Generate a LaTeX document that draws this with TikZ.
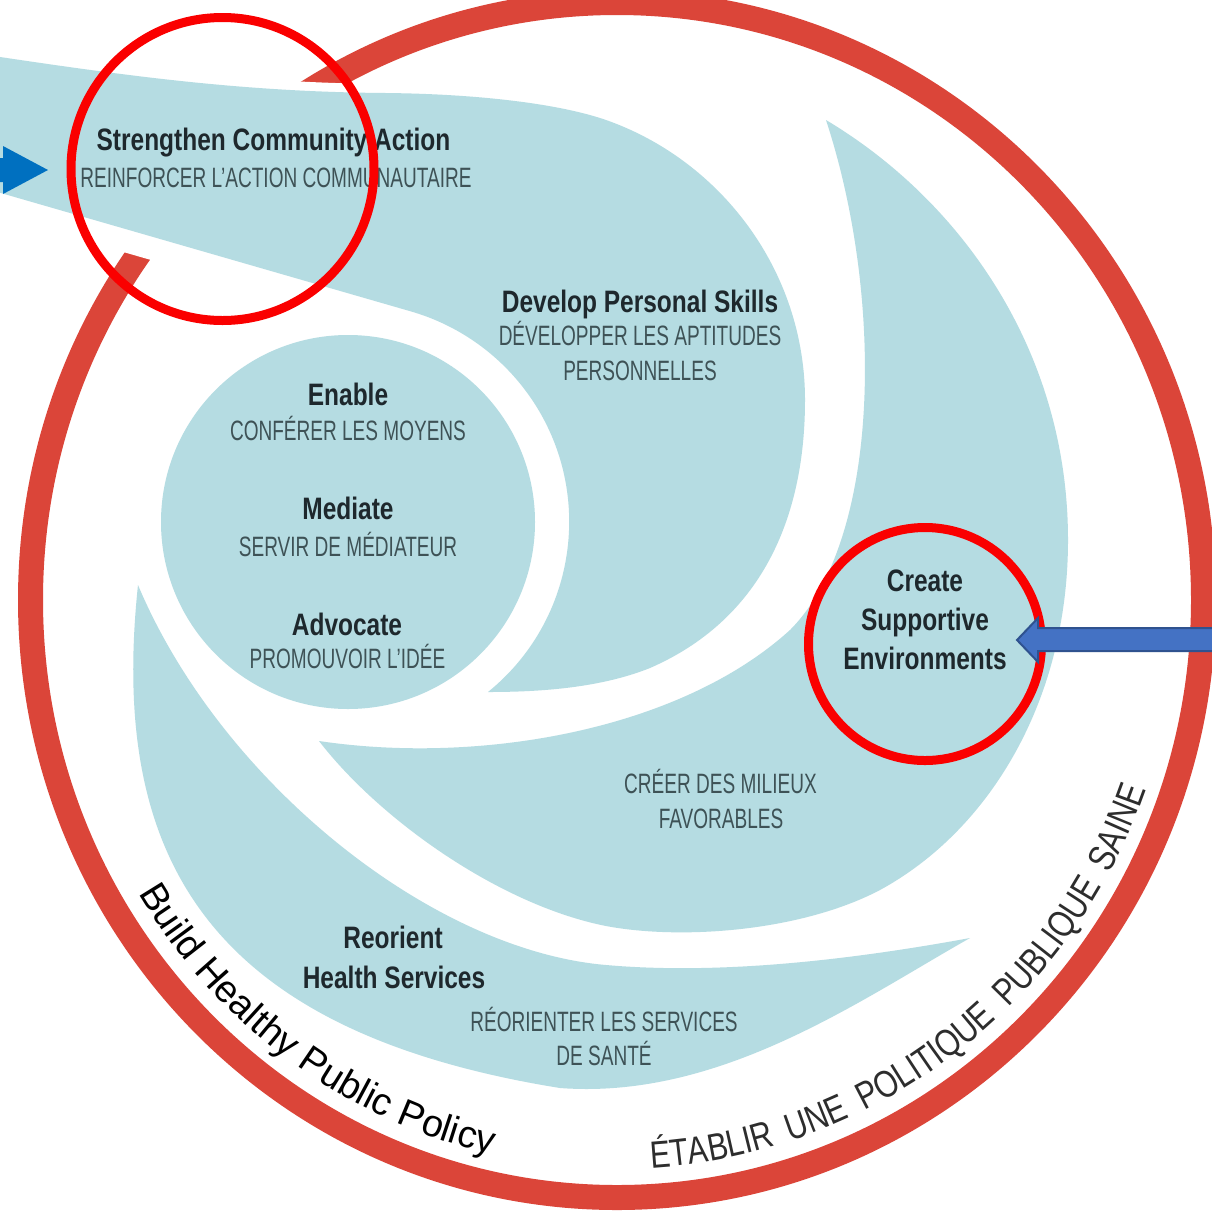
\documentclass[tikz,border=0pt]{standalone}
\usepackage{fontspec}
\setmainfont{Liberation Sans}
\newfontfamily\enfont{Liberation Sans}[FakeStretch=0.79]
\newfontfamily\frfont{Liberation Sans}[FakeStretch=0.68]
\newfontfamily\arcfrfont{Liberation Sans}[FakeStretch=0.8]
\newfontfamily\arcenfont{Liberation Sans}
\usetikzlibrary{decorations.text}
\definecolor{pale}{RGB}{181,220,226}
\definecolor{ringred}{RGB}{219,69,57}
\definecolor{annred}{RGB}{250,0,0}
\definecolor{entext}{RGB}{30,40,45}
\definecolor{frtext}{RGB}{62,82,86}
\definecolor{arrowA}{RGB}{0,112,192}
\definecolor{arrowB}{RGB}{68,114,196}
\definecolor{arrowBd}{RGB}{47,82,143}
\begin{document}
\begin{tikzpicture}[x=1pt, y=-1pt,
  en/.style={anchor=base, inner sep=0pt, text=entext, font=\enfont\bfseries\fontsize{31}{37}\selectfont},
  fr/.style={anchor=base, inner sep=0pt, text=frtext, font=\frfont\fontsize{28}{34}\selectfont},
  annot/.style={circle, draw=annred, line width=9pt, inner sep=0pt},
  region/.style={fill=pale},
  ringstyle/.style={draw=ringred, line width=25pt},
  halo/.style={draw=white, line width=18pt}]
\useasboundingbox (0,0) rectangle (1212,1211);
\clip (0,0) rectangle (1212,1211);
\fill[white] (0,0) rectangle (1212,1211);
\coordinate (ctr) at (617,600);
% outer red ring
\draw[ringstyle] (ctr) ellipse [x radius=586.5, y radius=597.5];
% extra white gap below the band where it crosses the ring
\draw[white, line width=46pt] (410.6,310.5) -- (-20,187);
% band + personal skills region
\path[region, preaction={halo}] (-20,54) .. controls (120,75) and (240,92) .. (386,93)
  .. controls (480,94) and (560,104) .. (606,120)
  .. controls (720,160) and (805,270) .. (805,400)
  .. controls (805,520) and (760,620) .. (650,668)
  .. controls (600,688) and (540,692) .. (488,692)
  arc[start angle=51, end angle=-74, radius=219] -- (-20,187) -- cycle;
% supportive environments region
\path[region] (826,120) .. controls (960,200) and (1068,350) .. (1068,540)
  .. controls (1068,700) and (990,830) .. (880,890)
  .. controls (800,932) and (680,940) .. (606,926)
  .. controls (500,905) and (380,820) .. (319,741)
  .. controls (480,765) and (680,730) .. (790,630)
  .. controls (880,540) and (885,300) .. (826,120) -- cycle;
% reorient health services region
\path[region] (138,585) .. controls (110,850) and (200,1030) .. (560,1088)
  .. controls (720,1100) and (860,1000) .. (970,938)
  .. controls (850,960) and (720,975) .. (606,965)
  .. controls (430,950) and (220,780) .. (138,585) -- cycle;
% inner circle
\path[region] (348,522) circle[radius=187];
% labels
\node[en] (sca) at (273.5,150.6) {Strengthen Community Action};
\node[fr] (scafr) at (276,187) {REINFORCER L’ACTION COMMUNAUTAIRE};
\node[en] (dps) at (640,312) {Develop Personal Skills};
\node[fr] (dpsfr1) at (640,345.5) {DÉVELOPPER LES APTITUDES};
\node[fr] (dpsfr2) at (640,380) {PERSONNELLES};
\node[en] (enable) at (348,405.5) {Enable};
\node[fr] (enablefr) at (348,440) {CONFÉRER LES MOYENS};
\node[en] (mediate) at (348,519) {Mediate};
\node[fr] (mediatefr) at (348,556) {SERVIR DE MÉDIATEUR};
\node[en] (advocate) at (347,635) {Advocate};
\node[fr] (advocatefr) at (347.5,668) {PROMOUVOIR L’IDÉE};
\node[en] (cse1) at (925,591) {Create};
\node[en] (cse2) at (925,630) {Supportive};
\node[en] (cse3) at (925,669) {Environments};
\node[fr] (csefr1) at (720.5,793) {CRÉER DES MILIEUX};
\node[fr] (csefr2) at (721,828) {FAVORABLES};
\node[en] (rhs1) at (393,948) {Reorient};
\node[en] (rhs2) at (394,988) {Health Services};
\node[fr] (rhsfr1) at (604,1031) {RÉORIENTER LES SERVICES};
\node[fr] (rhsfr2) at (604,1065) {DE SANTÉ};
% curved labels along the ring
\path[decorate, decoration={text along path,
   text={|\arcenfont\fontsize{38}{38}\selectfont\color{black}|Build Healthy Public Policy},
   text align={fit to path stretching spaces}}]
  ([shift={(149:558 and 569)}]ctr) arc[start angle=149, end angle=103, x radius=558, y radius=569];
\path[decorate, decoration={text along path,
   text={|\arcfrfont\fontsize{38}{38}\selectfont\color[RGB]{45,45,45}|ÉTABLIR UNE POLITIQUE PUBLIQUE SAINE},
   text align={fit to path stretching spaces}}]
  ([shift={(86.5:561 and 569)}]ctr) arc[start angle=86.5, end angle=19.5, x radius=561, y radius=569];
% annotation circles
\node[annot, minimum size=303pt] (ann1) at (222.5,169) {};
\node[annot, minimum size=233pt] (ann2) at (925,644) {};
% left arrow
\coordinate (latail) at (-30,170);
\coordinate (latip) at (48,170);
\fill[arrowA] (latip) -- ([shift={(-45,-24)}]latip) -- ([shift={(-45,-12)}]latip) -- ([shift={(0,-12)}]latail)
  -- ([shift={(0,12)}]latail) -- ([shift={(-45,12)}]latip) -- ([shift={(-45,24)}]latip) -- cycle;
% right arrow
\coordinate (ratip) at (1017,640);
\coordinate (ratail) at (1230,640);
\filldraw[fill=arrowB, draw=arrowBd, line width=2pt, line join=miter] (ratip) -- ([shift={(21,-22)}]ratip) -- ([shift={(21,-12)}]ratip) -- ([shift={(0,-12)}]ratail)
  -- ([shift={(0,11)}]ratail) -- ([shift={(21,11)}]ratip) -- ([shift={(21,22)}]ratip) -- cycle;
\end{tikzpicture}
\end{document}
